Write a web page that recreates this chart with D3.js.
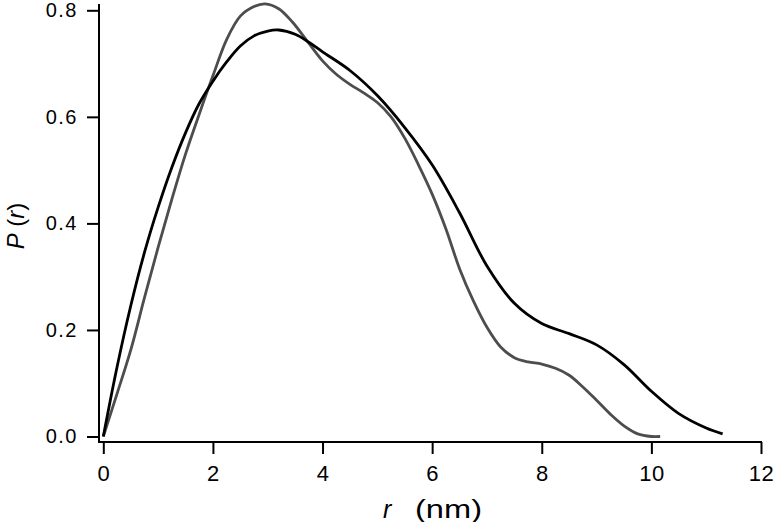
<!DOCTYPE html>
<html><head><meta charset="utf-8">
<script src="https://cdn.jsdelivr.net/npm/d3@7"></script>
<style>
html,body{margin:0;padding:0;background:#fff;}
svg{display:block;font-family:"Liberation Sans",Arial,sans-serif;}
</style></head>
<body>
<svg id="chart" width="774" height="522"></svg>
<script>
// Data
const blackR = [0,0.25,0.5,0.75,1.0,1.25,1.5,1.75,2.0,2.25,2.5,2.75,3.0,3.2,3.5,3.75,4.0,4.5,5.0,5.5,6.0,6.5,7.0,7.5,8.0,8.5,9.0,9.5,10.0,10.5,11.0,11.3];
const blackP = [0,0.13,0.245,0.345,0.43,0.505,0.57,0.625,0.667,0.703,0.733,0.752,0.761,0.763,0.755,0.74,0.722,0.687,0.64,0.58,0.51,0.42,0.32,0.25,0.212,0.193,0.172,0.135,0.085,0.043,0.016,0.005];
const grayR = [0,0.25,0.5,0.75,1.0,1.25,1.5,1.75,2.0,2.25,2.5,2.75,2.95,3.2,3.45,3.7,4.0,4.25,4.5,4.75,5.0,5.25,5.5,5.75,6.0,6.25,6.5,6.75,7.0,7.25,7.5,7.75,8.0,8.25,8.5,8.75,9.0,9.25,9.5,9.75,10.0,10.16];
const grayP = [0,0.08,0.162,0.26,0.355,0.445,0.53,0.605,0.677,0.745,0.789,0.807,0.812,0.803,0.778,0.745,0.705,0.68,0.661,0.645,0.627,0.6,0.56,0.51,0.455,0.39,0.315,0.255,0.205,0.168,0.148,0.14,0.136,0.128,0.115,0.093,0.068,0.042,0.02,0.005,0.0,0.0];
const xTicks = [0,2,4,6,8,10,12];
const yTicks = [0,0.2,0.4,0.6,0.8];

const svg = d3.select("#chart");
const x = d3.scaleLinear().domain([0,12]).range([103.3,761]);
const y = d3.scaleLinear().domain([0,0.8]).range([436.5,10.3]);

const axX = 99, axY = 442;

// Y axis
const gy = svg.append("g").attr("transform",`translate(${axX},0)`)
  .call(d3.axisLeft(y).tickValues(yTicks).tickFormat(d3.format(".1f")).tickSize(12).tickPadding(9));
gy.select(".domain").remove();
gy.selectAll(".tick line").attr("stroke","#000").attr("stroke-width",2);
gy.selectAll(".tick text").attr("font-size",20).attr("letter-spacing",1.5).attr("fill","#000")
  .attr("font-family","Liberation Sans, Arial, sans-serif");

// X axis
const gx = svg.append("g").attr("transform",`translate(0,${axY})`)
  .call(d3.axisBottom(x).tickValues(xTicks).tickFormat(d3.format("d")).tickSize(12).tickPadding(11));
gx.select(".domain").remove();
gx.selectAll(".tick line").attr("stroke","#000").attr("stroke-width",2);
gx.selectAll(".tick text").attr("font-size",22).attr("letter-spacing",0.5).attr("fill","#000")
  .attr("font-family","Liberation Sans, Arial, sans-serif");

// axis lines
svg.append("line").attr("x1",axX).attr("x2",axX).attr("y1",4).attr("y2",axY+1).attr("stroke","#000").attr("stroke-width",2);
svg.append("line").attr("x1",axX).attr("x2",x(12)+1).attr("y1",axY).attr("y2",axY).attr("stroke","#000").attr("stroke-width",2);

const line = d3.line().x(d=>x(d[0])).y(d=>y(d[1])).curve(d3.curveCatmullRom.alpha(0.5));

svg.append("path").datum(grayR.map((r,i)=>[r,grayP[i]]))
  .attr("d",line).attr("fill","none").attr("stroke","#4d4d4d").attr("stroke-width",2.8);
svg.append("path").datum(blackR.map((r,i)=>[r,blackP[i]]))
  .attr("d",line).attr("fill","none").attr("stroke","#000").attr("stroke-width",2.8);

// Axis labels
svg.append("text").attr("x",383).attr("y",518).attr("font-size",25).attr("font-style","italic")
  .attr("fill","#000").text("r");
svg.append("text").attr("x",415).attr("y",518).attr("font-size",25).attr("fill","#000")
  .attr("textLength",67).attr("lengthAdjust","spacingAndGlyphs").text("(nm)");

const yl = svg.append("text").attr("transform","translate(24,226) rotate(-90)").attr("text-anchor","middle")
  .attr("font-size",24).attr("fill","#000");
yl.append("tspan").attr("font-style","italic").text("P");
yl.append("tspan").text(" (");
yl.append("tspan").attr("font-style","italic").text("r");
yl.append("tspan").text(")");
</script>
</body></html>
